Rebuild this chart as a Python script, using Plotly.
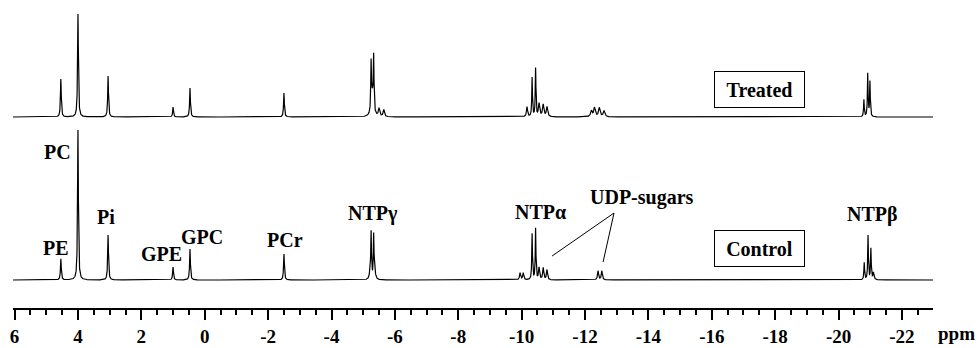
import numpy as np
import plotly.graph_objects as go

# ---- data: peak lists (ppm, height in arbitrary units, FWHM ppm) ----
control_ppm = [4.54, 4.00, 3.05, 1.00, 0.465, -2.50,
               -5.25, -5.33, -5.22, -5.36,
               -9.95, -10.05, -10.33, -10.44, -10.55, -10.68, -10.80,
               -12.41, -12.53,
               -20.81, -20.93, -21.02, -21.10]
control_h = [21, 150, 45, 13, 31, 26,
             45, 42, 8, 10,
             7, 7, 46, 51, 12, 12, 10,
             9, 9,
             17, 44, 31, 7]
control_w = [0.03, 0.03, 0.03, 0.03, 0.03, 0.03,
             0.025, 0.025, 0.05, 0.05,
             0.04, 0.04, 0.025, 0.025, 0.04, 0.04, 0.04,
             0.04, 0.04,
             0.025, 0.025, 0.025, 0.04]

treated_ppm = [4.54, 4.00, 3.05, 1.00, 0.465, -2.50,
               -5.25, -5.33, -5.29, -5.50, -5.65,
               -10.17, -10.33, -10.44, -10.55, -10.68, -10.80,
               -12.20, -12.30, -12.45, -12.60,
               -20.80, -20.92, -20.99]
treated_h = [38, 103, 41, 10, 29, 24,
             47, 53, 20, 8, 7,
             10, 39, 48, 13, 12, 10,
             6, 9, 9, 6,
             17, 43, 35]
treated_w = [0.03, 0.03, 0.03, 0.03, 0.03, 0.03,
             0.025, 0.025, 0.08, 0.05, 0.05,
             0.04, 0.025, 0.025, 0.05, 0.05, 0.05,
             0.06, 0.06, 0.06, 0.06,
             0.025, 0.025, 0.025]

tick_vals = [6, 4, 2, 0, -2, -4, -6, -8, -10, -12, -14, -16, -18, -20, -22]
tick_text = ["6", "4", "2", "0", "-2", "-4", "-6", "-8", "-10", "-12", "-14",
             "-16", "-18", "-20", "-22"]

peak_labels = ["PE", "PC", "Pi", "GPE", "GPC", "PCr", "NTPγ", "NTPα", "UDP-sugars", "NTPβ"]
label_ppm = [4.69, 4.66, 3.115, 1.38, 0.086, -2.53, -5.31, -10.58, -13.80, -21.06]
label_y = [60, 156, 91, 54, 71, 68, 95, 96, 111, 94]

CONTROL_BASE = 28
TREATED_BASE = 191

# ---- build spectra (Lorentzian lines) ----
grid = np.arange(6.05, -23.0, -0.004)
grid = np.unique(np.concatenate([grid, control_ppm, treated_ppm]))[::-1]


def spectrum(ppm, h, w):
    y = np.zeros_like(grid)
    for p, a, fw in zip(ppm, h, w):
        g = fw / 2.0
        y += a * g * g / ((grid - p) ** 2 + g * g)
    return y


ctrl = spectrum(control_ppm, control_h, control_w) + CONTROL_BASE
trt = spectrum(treated_ppm, treated_h, treated_w) + TREATED_BASE

fig = go.Figure()
fig.add_trace(go.Scatter(x=grid, y=trt, mode="lines",
                         line=dict(color="black", width=1.2), hoverinfo="skip"))
fig.add_trace(go.Scatter(x=grid, y=ctrl, mode="lines",
                         line=dict(color="black", width=1.2), hoverinfo="skip"))

FONT = "Liberation Serif, Times New Roman, serif"
ann = []
for t, xp, yp in zip(peak_labels, label_ppm, label_y):
    ann.append(dict(x=xp, y=yp, xref="x", yref="y", text="<b>%s</b>" % t,
                    showarrow=False, font=dict(family=FONT, size=20, color="black")))

for t, yp in [("Control", 60), ("Treated", 219)]:
    ann.append(dict(x=-17.49, y=yp, xref="x", yref="y", text="<b>%s</b>" % t,
                    showarrow=False, font=dict(family=FONT, size=20, color="black"),
                    bordercolor="black", borderwidth=1, borderpad=5,
                    width=79, height=25, bgcolor="white"))

ann.append(dict(x=1.0, xref="paper", xanchor="left", y=-0.084, yref="paper",
                yanchor="middle", xshift=3, text="<b>ppm</b>", showarrow=False,
                font=dict(family=FONT, size=19, color="black")))

# UDP-sugars pointer lines
shapes = [
    dict(type="line", xref="x", yref="y", x0=-12.915, y0=95, x1=-10.96, y1=52,
         line=dict(color="black", width=1)),
    dict(type="line", xref="x", yref="y", x0=-12.915, y0=95, x1=-12.57, y1=46,
         line=dict(color="black", width=1)),
]

fig.update_layout(
    width=979, height=348,
    margin=dict(l=13, r=46, t=0, b=40),
    paper_bgcolor="white", plot_bgcolor="white",
    showlegend=False,
    annotations=ann, shapes=shapes,
    xaxis=dict(range=[6.05, -22.98], showgrid=False, zeroline=False,
               showline=True, linecolor="black", linewidth=2,
               ticks="outside", ticklen=10, tickwidth=2, tickcolor="black",
               tickvals=tick_vals, ticktext=tick_text,
               tickfont=dict(family=FONT, size=19, color="black", weight="bold"),
               minor=dict(dtick=0.5, tick0=0, ticks="outside", ticklen=5,
                          tickwidth=2, tickcolor="black")),
    yaxis=dict(range=[0, 308], visible=False, showgrid=False, zeroline=False),
)

fig.write_html("out.html", config={"displayModeBar": False},
               post_script="document.body.style.margin='0';document.body.style.overflow='hidden';")
